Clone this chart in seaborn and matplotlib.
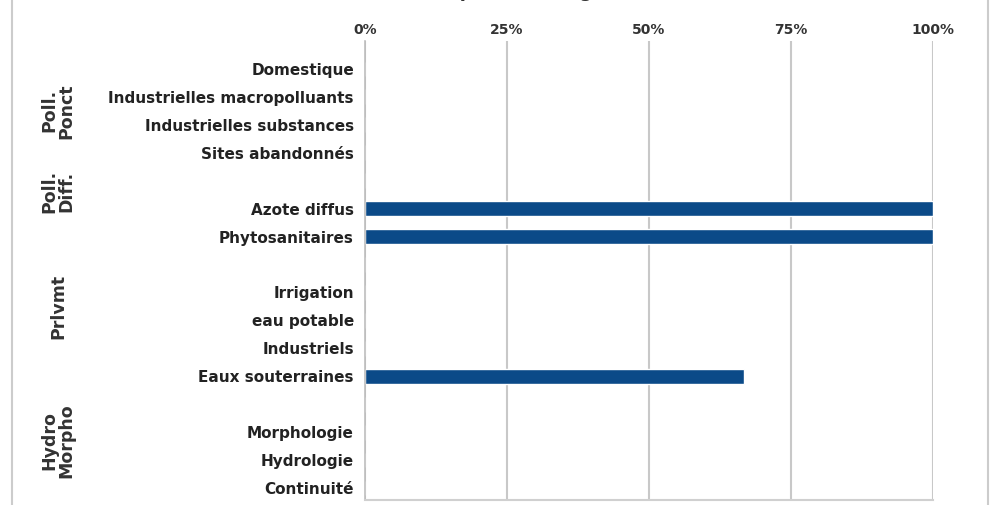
import matplotlib
matplotlib.use("Agg")
import matplotlib.pyplot as plt
import seaborn as sns
import pandas as pd
from matplotlib.lines import Line2D

# rows, with blank spacer rows between groups
categories = ["Domestique", "Industrielles macropolluants", "Industrielles substances",
              "Sites abandonnés", "_gap1", "Azote diffus", "Phytosanitaires", "_gap2",
              "Irrigation", "eau potable", "Industriels", "Eaux souterraines", "_gap3",
              "Morphologie", "Hydrologie", "Continuité"]
values = [0, 0, 0, 0, 0, 100, 100, 0, 0, 0, 0, 66.7, 0, 0, 0, 0]

groups = ["Poll.\nPonct", "Poll.\nDiff.", "Prlvmt", "Hydro\nMorpho"]
group_rows = [1.5, 4.4, 8.5, 13.3]

tick_vals = [0, 25, 50, 75, 100]
tick_labels = ["0%", "25%", "50%", "75%", "100%"]

title = "Part des masses d'eau avec des pressions significatives sur ce domaine"

df = pd.DataFrame({"cat": categories, "val": values})

sns.set_style("white")
plt.rcParams["font.family"] = ["DejaVu Sans"]

fig = plt.figure(figsize=(9.91, 5.05), dpi=100)
ax = fig.add_axes([365 / 991, 1 - 500 / 505, (933 - 365) / 991, (500 - 41) / 505])

sns.barplot(data=df, y="cat", x="val", order=categories, orient="h",
            color="#0b4a88", saturation=1, width=0.53, ax=ax)

ax.set_xlim(0, 100)
ax.set_ylim(15.43, -1)
ax.set_xticks(tick_vals)
ax.set_xticklabels(tick_labels, fontsize=10, fontweight="bold", color="#333333")
ax.xaxis.tick_top()
ax.tick_params(axis="x", length=0, pad=3)
ax.set_yticks(range(len(categories)))
ax.set_yticklabels([c if not c.startswith("_") else "" for c in categories],
                   fontsize=11, fontweight="bold", color="#222222")
ax.tick_params(axis="y", length=3, color="#bbbbbb", pad=5)
ax.set_xlabel("")
ax.set_ylabel("")

ax.grid(axis="x", color="#c8c8c8", linewidth=1.5)
ax.set_axisbelow(True)
for s in ["top", "right"]:
    ax.spines[s].set_visible(False)
ax.spines["left"].set_color("#bdbdbd")
ax.spines["left"].set_linewidth(1.2)
ax.spines["bottom"].set_color("#d0d0d0")
ax.spines["bottom"].set_linewidth(1.5)

for lab, r in zip(groups, group_rows):
    y = ax.transData.transform((0, r))[1] / (505)
    fig.text(58 / 991, y, lab, rotation=90, ha="center", va="center",
             fontsize=12.5, fontweight="bold", color="#333333", linespacing=0.95,
             multialignment="center")

# title is cut off at the top edge in the original image
fig.text(0.5, 1 + 3 / 505, title, ha="center", va="baseline",
         fontsize=13, fontweight="bold", color="#333333")

# outer frame of the original chart image
fig.add_artist(Line2D([12 / 991, 12 / 991], [0, 1], color="#cccccc", lw=1.5,
                      transform=fig.transFigure))
fig.add_artist(Line2D([988 / 991, 988 / 991], [0, 1], color="#cccccc", lw=1.5,
                      transform=fig.transFigure))

fig.savefig("out.png", dpi=100)
